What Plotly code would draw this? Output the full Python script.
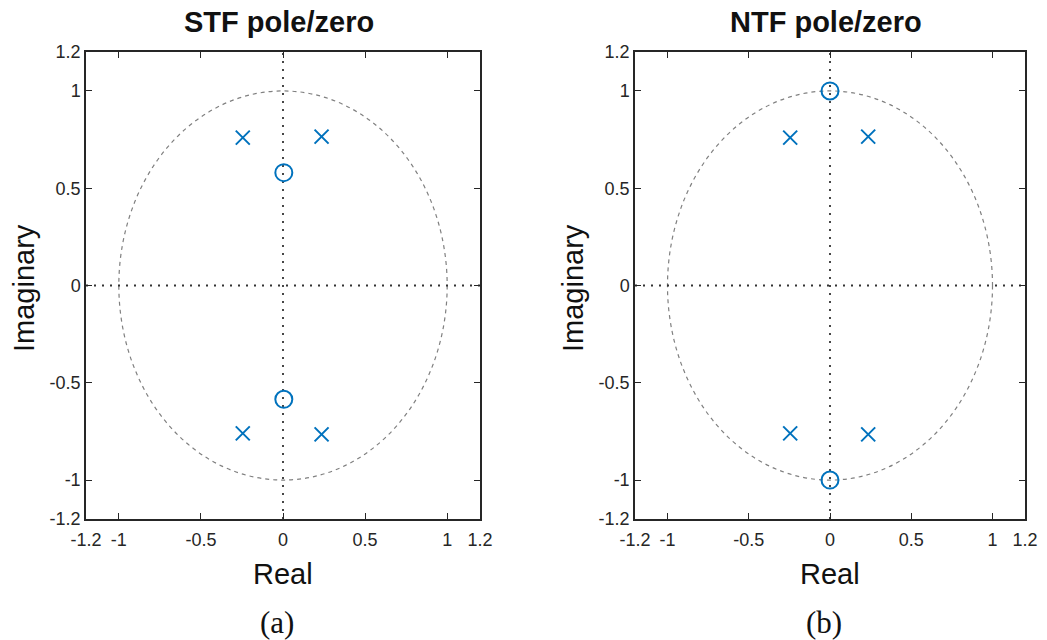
import plotly.graph_objects as go

# ---- data ----
stf_pole_re = [-0.245, 0.235, -0.245, 0.235]
stf_pole_im = [0.76, 0.765, -0.76, -0.765]
stf_zero_re = [0.005, 0.005]
stf_zero_im = [0.58, -0.585]

ntf_pole_re = [-0.245, 0.235, -0.245, 0.235]
ntf_pole_im = [0.76, 0.765, -0.76, -0.765]
ntf_zero_re = [0.0, 0.0]
ntf_zero_im = [1.0, -1.0]

tick_vals = [-1.2, -1, -0.5, 0, 0.5, 1, 1.2]
tick_text = ["-1.2", "-1", "-0.5", "0", "0.5", "1", "1.2"]
titles = ["STF pole/zero", "NTF pole/zero"]
captions = ["(a)", "(b)"]

BLUE = "#0072BD"
DARK = "#262626"
SANS = "Liberation Sans, Arial"
W, H = 1047, 640

fig = go.Figure()

panels = [
    (stf_pole_re, stf_pole_im, stf_zero_re, stf_zero_im, "x", "y", (86, 480)),
    (ntf_pole_re, ntf_pole_im, ntf_zero_re, ntf_zero_im, "x2", "y2", (635, 1025)),
]
top_px, bot_px = 52, 519
ydom = [1 - bot_px / H, 1 - top_px / H]


def px(xp, yp):
    return dict(x=xp / W, y=1 - yp / H, xref="paper", yref="paper")


for i, (pr, pi, zr, zi, xa, ya, (l, r)) in enumerate(panels):
    fig.add_trace(go.Scatter(x=pr, y=pi, mode="markers", xaxis=xa, yaxis=ya,
                             marker=dict(symbol="x-thin", size=14, line=dict(width=2, color=BLUE), color=BLUE),
                             showlegend=False, hoverinfo="skip"))
    fig.add_trace(go.Scatter(x=zr, y=zi, mode="markers", xaxis=xa, yaxis=ya,
                             marker=dict(symbol="circle-open", size=17, line=dict(width=2, color=BLUE), color=BLUE),
                             showlegend=False, hoverinfo="skip"))
    # unit circle
    fig.add_shape(type="circle", xref=xa, yref=ya, x0=-1, y0=-1, x1=1, y1=1,
                  line=dict(color="#808080", width=1.2, dash="4px,4px"), layer="below")
    # axes dotted lines
    fig.add_shape(type="line", xref=xa, yref=ya, x0=0, x1=0, y0=-1.2, y1=1.2,
                  line=dict(color="#333333", width=1.8, dash="2px,6px"), layer="below")
    fig.add_shape(type="line", xref=xa, yref=ya, x0=-1.2, x1=1.2, y0=0, y1=0,
                  line=dict(color="#333333", width=1.8, dash="2px,6px"), layer="below")

    axis_common = dict(range=[-1.2, 1.2], tickmode="array", tickvals=tick_vals, ticktext=tick_text,
                       ticks="inside", ticklen=6, tickwidth=1.2, tickcolor=DARK,
                       showline=True, linecolor=DARK, linewidth=1.5, mirror="ticks",
                       showgrid=False, zeroline=False, automargin=False,
                       tickfont=dict(family=SANS, size=18, color=DARK))
    xkey = "xaxis" if xa == "x" else "xaxis2"
    ykey = "yaxis" if ya == "y" else "yaxis2"
    fig.update_layout(**{
        xkey: dict(axis_common, domain=[l / W, r / W], anchor=ya, ticklabelstandoff=4),
        ykey: dict(axis_common, domain=ydom, anchor=xa),
    })
    cx = (l + r) / 2
    fig.add_annotation(text="<b>" + titles[i] + "</b>", **px(cx - 4, 22),
                       showarrow=False, font=dict(family=SANS, size=29, color="#111111"),
                       xanchor="center", yanchor="middle")
    fig.add_annotation(text="Real", **px(cx, 574),
                       showarrow=False, font=dict(family=SANS, size=29, color="#111111"),
                       xanchor="center", yanchor="middle")
    fig.add_annotation(text="Imaginary", **px(l - 62, 288), textangle=-90,
                       showarrow=False, font=dict(family=SANS, size=29, color="#111111"),
                       xanchor="center", yanchor="middle")
    fig.add_annotation(text=captions[i], **px(cx - 6, 622),
                       showarrow=False, font=dict(family="Liberation Serif, Times New Roman", size=31, color="#111111"),
                       xanchor="center", yanchor="middle")

fig.update_layout(width=W, height=H, margin=dict(l=0, r=0, t=0, b=0),
                  paper_bgcolor="white", plot_bgcolor="white")

fig.write_html("out.html")
